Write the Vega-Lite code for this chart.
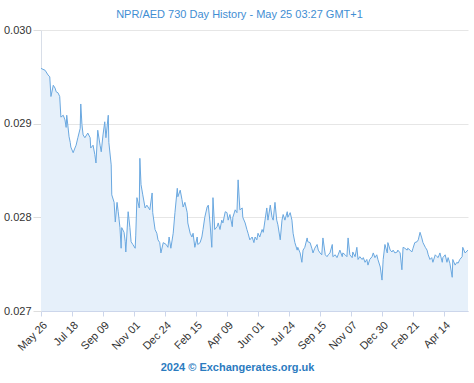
{
  "$schema": "https://vega.github.io/schema/vega-lite/v6.json",
  "width": 427,
  "height": 281,
  "autosize": "none",
  "padding": {"left": 41, "top": 30, "right": 6, "bottom": 72},
  "background": "#ffffff",
  "title": {"text": "NPR/AED 730 Day History - May 25 03:27 GMT+1", "font": "Liberation Sans", "fontSize": 11, "fontWeight": "normal", "color": "#3f8ed3", "anchor": "middle", "dx": -15, "offset": 4},
  "config": {"view": {"stroke": null}},
  "data": {"values": [
    {"date":"2022-05-26","rate":0.02959},{"date":"2022-06-02","rate":0.02957},{"date":"2022-06-07","rate":0.02952},{"date":"2022-06-10","rate":0.0295},{"date":"2022-06-12","rate":0.02929},{"date":"2022-06-16","rate":0.02941},{"date":"2022-06-19","rate":0.02938},{"date":"2022-06-21","rate":0.02934},{"date":"2022-06-24","rate":0.02933},{"date":"2022-06-27","rate":0.02929},{"date":"2022-06-29","rate":0.02907},{"date":"2022-07-03","rate":0.02909},{"date":"2022-07-06","rate":0.02904},{"date":"2022-07-08","rate":0.02896},{"date":"2022-07-09","rate":0.02909},{"date":"2022-07-13","rate":0.02886},{"date":"2022-07-15","rate":0.0288},{"date":"2022-07-16","rate":0.02875},{"date":"2022-07-20","rate":0.02869},{"date":"2022-07-23","rate":0.02874},{"date":"2022-07-25","rate":0.02877},{"date":"2022-07-28","rate":0.02885},{"date":"2022-08-01","rate":0.02895},{"date":"2022-08-02","rate":0.02921},{"date":"2022-08-04","rate":0.02899},{"date":"2022-08-06","rate":0.02888},{"date":"2022-08-09","rate":0.02885},{"date":"2022-08-14","rate":0.0289},{"date":"2022-08-18","rate":0.02885},{"date":"2022-08-19","rate":0.02874},{"date":"2022-08-23","rate":0.02877},{"date":"2022-08-26","rate":0.02867},{"date":"2022-08-28","rate":0.02858},{"date":"2022-08-31","rate":0.02893},{"date":"2022-09-04","rate":0.02877},{"date":"2022-09-06","rate":0.0287},{"date":"2022-09-09","rate":0.02888},{"date":"2022-09-12","rate":0.02902},{"date":"2022-09-14","rate":0.02885},{"date":"2022-09-18","rate":0.02909},{"date":"2022-09-19","rate":0.0288},{"date":"2022-09-23","rate":0.02856},{"date":"2022-09-24","rate":0.02824},{"date":"2022-09-28","rate":0.02816},{"date":"2022-09-30","rate":0.02795},{"date":"2022-10-03","rate":0.02816},{"date":"2022-10-05","rate":0.02806},{"date":"2022-10-08","rate":0.02789},{"date":"2022-10-10","rate":0.02767},{"date":"2022-10-11","rate":0.02789},{"date":"2022-10-15","rate":0.02784},{"date":"2022-10-17","rate":0.02774},{"date":"2022-10-18","rate":0.02763},{"date":"2022-10-22","rate":0.02806},{"date":"2022-10-25","rate":0.02789},{"date":"2022-10-27","rate":0.02774},{"date":"2022-10-30","rate":0.02771},{"date":"2022-11-03","rate":0.02767},{"date":"2022-11-04","rate":0.02781},{"date":"2022-11-06","rate":0.02821},{"date":"2022-11-10","rate":0.0281},{"date":"2022-11-11","rate":0.02863},{"date":"2022-11-13","rate":0.02835},{"date":"2022-11-16","rate":0.02824},{"date":"2022-11-20","rate":0.0281},{"date":"2022-11-23","rate":0.02813},{"date":"2022-11-28","rate":0.02808},{"date":"2022-12-02","rate":0.02826},{"date":"2022-12-03","rate":0.02805},{"date":"2022-12-07","rate":0.02787},{"date":"2022-12-10","rate":0.02783},{"date":"2022-12-12","rate":0.02776},{"date":"2022-12-15","rate":0.02773},{"date":"2022-12-17","rate":0.02762},{"date":"2022-12-21","rate":0.02773},{"date":"2022-12-26","rate":0.02771},{"date":"2022-12-29","rate":0.02768},{"date":"2022-12-31","rate":0.02779},{"date":"2023-01-03","rate":0.02767},{"date":"2023-01-07","rate":0.02783},{"date":"2023-01-10","rate":0.02805},{"date":"2023-01-14","rate":0.02831},{"date":"2023-01-15","rate":0.02822},{"date":"2023-01-19","rate":0.02829},{"date":"2023-01-22","rate":0.02819},{"date":"2023-01-24","rate":0.02811},{"date":"2023-01-27","rate":0.02816},{"date":"2023-01-31","rate":0.02805},{"date":"2023-02-01","rate":0.02794},{"date":"2023-02-05","rate":0.02783},{"date":"2023-02-08","rate":0.02779},{"date":"2023-02-10","rate":0.02783},{"date":"2023-02-13","rate":0.02768},{"date":"2023-02-17","rate":0.02779},{"date":"2023-02-18","rate":0.02771},{"date":"2023-02-22","rate":0.02773},{"date":"2023-02-25","rate":0.02779},{"date":"2023-02-27","rate":0.02787},{"date":"2023-03-02","rate":0.028},{"date":"2023-03-06","rate":0.02811},{"date":"2023-03-08","rate":0.02813},{"date":"2023-03-11","rate":0.02794},{"date":"2023-03-14","rate":0.02768},{"date":"2023-03-16","rate":0.02821},{"date":"2023-03-19","rate":0.02787},{"date":"2023-03-23","rate":0.0279},{"date":"2023-03-25","rate":0.02794},{"date":"2023-03-28","rate":0.02787},{"date":"2023-03-31","rate":0.02797},{"date":"2023-04-02","rate":0.02794},{"date":"2023-04-06","rate":0.02806},{"date":"2023-04-09","rate":0.02805},{"date":"2023-04-11","rate":0.02797},{"date":"2023-04-14","rate":0.02803},{"date":"2023-04-18","rate":0.0279},{"date":"2023-04-19","rate":0.028},{"date":"2023-04-23","rate":0.02808},{"date":"2023-04-26","rate":0.02805},{"date":"2023-04-28","rate":0.0284},{"date":"2023-05-01","rate":0.02808},{"date":"2023-05-05","rate":0.0281},{"date":"2023-05-06","rate":0.028},{"date":"2023-05-10","rate":0.02794},{"date":"2023-05-13","rate":0.02787},{"date":"2023-05-15","rate":0.02783},{"date":"2023-05-18","rate":0.02776},{"date":"2023-05-22","rate":0.02779},{"date":"2023-05-25","rate":0.02773},{"date":"2023-05-27","rate":0.02779},{"date":"2023-05-30","rate":0.02776},{"date":"2023-06-01","rate":0.02783},{"date":"2023-06-04","rate":0.02779},{"date":"2023-06-08","rate":0.02787},{"date":"2023-06-10","rate":0.02784},{"date":"2023-06-13","rate":0.02797},{"date":"2023-06-16","rate":0.0281},{"date":"2023-06-18","rate":0.02797},{"date":"2023-06-22","rate":0.02813},{"date":"2023-06-25","rate":0.028},{"date":"2023-06-27","rate":0.02797},{"date":"2023-06-30","rate":0.02816},{"date":"2023-07-03","rate":0.02797},{"date":"2023-07-05","rate":0.02792},{"date":"2023-07-09","rate":0.02776},{"date":"2023-07-12","rate":0.02797},{"date":"2023-07-14","rate":0.02803},{"date":"2023-07-17","rate":0.02797},{"date":"2023-07-21","rate":0.02806},{"date":"2023-07-22","rate":0.028},{"date":"2023-07-26","rate":0.02805},{"date":"2023-07-29","rate":0.02797},{"date":"2023-07-31","rate":0.02783},{"date":"2023-08-03","rate":0.02773},{"date":"2023-08-07","rate":0.02765},{"date":"2023-08-08","rate":0.02768},{"date":"2023-08-12","rate":0.02762},{"date":"2023-08-15","rate":0.02752},{"date":"2023-08-17","rate":0.02765},{"date":"2023-08-20","rate":0.02768},{"date":"2023-08-24","rate":0.02778},{"date":"2023-08-25","rate":0.02774},{"date":"2023-08-29","rate":0.02773},{"date":"2023-09-01","rate":0.02767},{"date":"2023-09-03","rate":0.02762},{"date":"2023-09-06","rate":0.02767},{"date":"2023-09-10","rate":0.02771},{"date":"2023-09-12","rate":0.02765},{"date":"2023-09-15","rate":0.02762},{"date":"2023-09-18","rate":0.0276},{"date":"2023-09-20","rate":0.02778},{"date":"2023-09-24","rate":0.0276},{"date":"2023-09-27","rate":0.02758},{"date":"2023-09-29","rate":0.0276},{"date":"2023-10-02","rate":0.02762},{"date":"2023-10-06","rate":0.02771},{"date":"2023-10-07","rate":0.02758},{"date":"2023-10-11","rate":0.0276},{"date":"2023-10-14","rate":0.02757},{"date":"2023-10-16","rate":0.0276},{"date":"2023-10-19","rate":0.02765},{"date":"2023-10-23","rate":0.02758},{"date":"2023-10-24","rate":0.02762},{"date":"2023-10-28","rate":0.0276},{"date":"2023-10-31","rate":0.02758},{"date":"2023-11-02","rate":0.02778},{"date":"2023-11-05","rate":0.0276},{"date":"2023-11-09","rate":0.02757},{"date":"2023-11-10","rate":0.02763},{"date":"2023-11-14","rate":0.02758},{"date":"2023-11-17","rate":0.02768},{"date":"2023-11-19","rate":0.02755},{"date":"2023-11-22","rate":0.02758},{"date":"2023-11-26","rate":0.02755},{"date":"2023-11-28","rate":0.02757},{"date":"2023-12-01","rate":0.02752},{"date":"2023-12-04","rate":0.02755},{"date":"2023-12-06","rate":0.02749},{"date":"2023-12-09","rate":0.02755},{"date":"2023-12-13","rate":0.02758},{"date":"2023-12-15","rate":0.02762},{"date":"2023-12-18","rate":0.02757},{"date":"2023-12-21","rate":0.0276},{"date":"2023-12-23","rate":0.02755},{"date":"2023-12-27","rate":0.02747},{"date":"2023-12-30","rate":0.02733},{"date":"2024-01-01","rate":0.02755},{"date":"2024-01-04","rate":0.02771},{"date":"2024-01-08","rate":0.02762},{"date":"2024-01-09","rate":0.02773},{"date":"2024-01-13","rate":0.02765},{"date":"2024-01-16","rate":0.02763},{"date":"2024-01-18","rate":0.02765},{"date":"2024-01-21","rate":0.02762},{"date":"2024-01-25","rate":0.02763},{"date":"2024-01-26","rate":0.02765},{"date":"2024-01-30","rate":0.02762},{"date":"2024-02-02","rate":0.02744},{"date":"2024-02-04","rate":0.02768},{"date":"2024-02-07","rate":0.02767},{"date":"2024-02-11","rate":0.02765},{"date":"2024-02-12","rate":0.02767},{"date":"2024-02-16","rate":0.02765},{"date":"2024-02-19","rate":0.02763},{"date":"2024-02-21","rate":0.02767},{"date":"2024-02-24","rate":0.02773},{"date":"2024-02-28","rate":0.02774},{"date":"2024-03-01","rate":0.02776},{"date":"2024-03-04","rate":0.02784},{"date":"2024-03-07","rate":0.02778},{"date":"2024-03-09","rate":0.02773},{"date":"2024-03-13","rate":0.02768},{"date":"2024-03-16","rate":0.02765},{"date":"2024-03-18","rate":0.0276},{"date":"2024-03-21","rate":0.02755},{"date":"2024-03-24","rate":0.02757},{"date":"2024-03-26","rate":0.02752},{"date":"2024-03-30","rate":0.0276},{"date":"2024-04-02","rate":0.02758},{"date":"2024-04-04","rate":0.02757},{"date":"2024-04-07","rate":0.02762},{"date":"2024-04-11","rate":0.02752},{"date":"2024-04-12","rate":0.02757},{"date":"2024-04-16","rate":0.0276},{"date":"2024-04-19","rate":0.02752},{"date":"2024-04-21","rate":0.02757},{"date":"2024-04-24","rate":0.02751},{"date":"2024-04-28","rate":0.02736},{"date":"2024-04-29","rate":0.02755},{"date":"2024-05-03","rate":0.02749},{"date":"2024-05-06","rate":0.02752},{"date":"2024-05-08","rate":0.02751},{"date":"2024-05-11","rate":0.02755},{"date":"2024-05-15","rate":0.02758},{"date":"2024-05-16","rate":0.02768},{"date":"2024-05-20","rate":0.02762},{"date":"2024-05-25","rate":0.02765}
  ]},
  "encoding": {
    "x": {"field": "date", "type": "temporal",
      "scale": {"type": "utc", "domain": [{"year": 2022, "month": 5, "date": 26, "utc": true}, {"year": 2024, "month": 5, "date": 25, "utc": true}]},
      "axis": {
        "values": [
          {"year": 2022, "month": 5, "date": 26, "utc": true},
          {"year": 2022, "month": 7, "date": 18, "utc": true},
          {"year": 2022, "month": 9, "date": 9, "utc": true},
          {"year": 2022, "month": 11, "date": 1, "utc": true},
          {"year": 2022, "month": 12, "date": 24, "utc": true},
          {"year": 2023, "month": 2, "date": 15, "utc": true},
          {"year": 2023, "month": 4, "date": 9, "utc": true},
          {"year": 2023, "month": 6, "date": 1, "utc": true},
          {"year": 2023, "month": 7, "date": 24, "utc": true},
          {"year": 2023, "month": 9, "date": 15, "utc": true},
          {"year": 2023, "month": 11, "date": 7, "utc": true},
          {"year": 2023, "month": 12, "date": 30, "utc": true},
          {"year": 2024, "month": 2, "date": 21, "utc": true},
          {"year": 2024, "month": 4, "date": 14, "utc": true}
        ],
        "format": "%b %d",
        "labelAngle": -45,
        "labelFont": "Liberation Sans",
        "labelFontSize": 11,
        "labelColor": "#333333",
        "labelPadding": 3,
        "grid": false,
        "domainColor": "#ccd6eb",
        "tickColor": "#ccd6eb",
        "tickSize": 5,
        "labelOverlap": false,
        "title": "2024 © Exchangerates.org.uk",
        "titleFont": "Liberation Sans",
        "titleFontSize": 11,
        "titleFontWeight": "bold",
        "titleColor": "#2b7bbf",
        "titleX": 196,
        "titleY": 56,
        "titleAlign": "center",
        "titleBaseline": "middle"
      }
    },
    "y": {"field": "rate", "type": "quantitative",
      "scale": {"domain": [0.027, 0.030], "zero": false, "nice": false},
      "axis": {
        "values": [0.027, 0.028, 0.029, 0.030],
        "format": ".3f",
        "title": null,
        "labelFont": "Liberation Sans",
        "labelFontSize": 11,
        "labelColor": "#333333",
        "labelPadding": 2,
        "tickSize": 8,
        "tickColor": "#dddddd",
        "domainColor": "#d8dee8",
        "gridColor": "#e6e6e6"
      }
    }
  },
  "layer": [
    {"mark": {"type": "area", "color": "#e6f0fa", "opacity": 1}, "encoding": {"y2": {"datum": 0.027}}},
    {"mark": {"type": "line", "color": "#6aa8e0", "strokeWidth": 1}}
  ]
}
